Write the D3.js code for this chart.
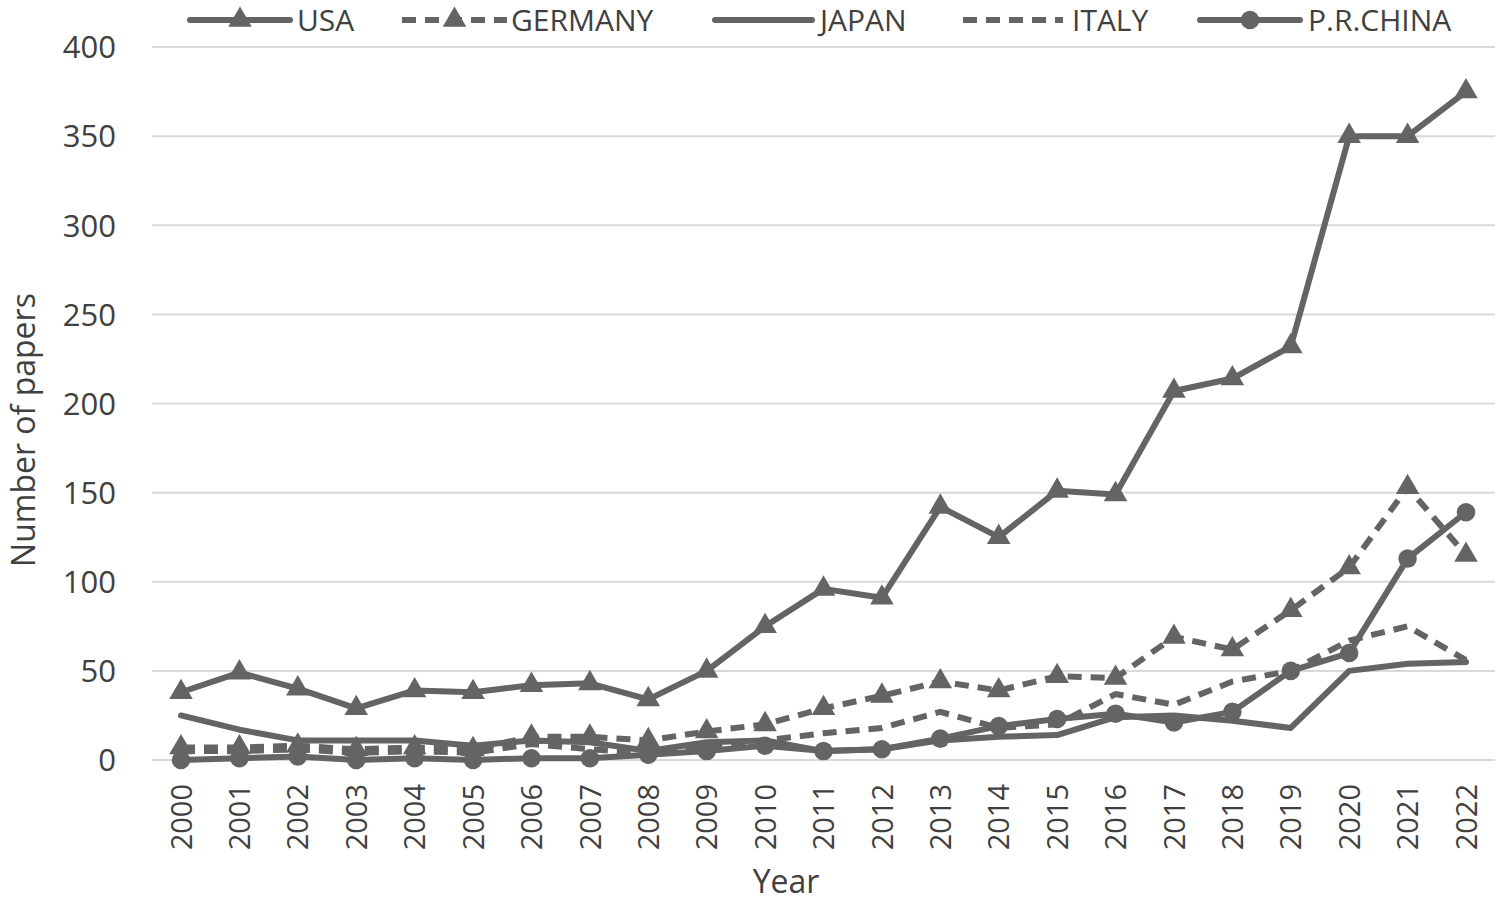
<!DOCTYPE html>
<html>
<head>
<meta charset="utf-8">
<script src="https://cdn.jsdelivr.net/npm/d3@7"></script>
<style>
  html, body { margin: 0; padding: 0; background: #fff; }
  svg text { font-family: "Open Sans", "Noto Sans", sans-serif; fill: #404040; }
</style>
</head>
<body>
<svg id="chart" width="1500" height="902"></svg>
<script>
const years = ["2000","2001","2002","2003","2004","2005","2006","2007","2008","2009","2010","2011","2012","2013","2014","2015","2016","2017","2018","2019","2020","2021","2022"];
const usa     = [38, 49, 40, 29, 39, 38, 42, 43, 34, 50, 75, 96, 91, 142, 125, 151, 149, 207, 214, 232, 350, 350, 375];
const germany = [7, 7, 8, 6, 7, 6, 13, 13, 11, 16, 20, 29, 36, 44, 39, 47, 46, 69, 62, 84, 108, 153, 115];
const japan   = [25, 17, 11, 11, 11, 8, 11, 10, 5, 10, 11, 5, 6, 11, 13, 14, 24, 25, 22, 18, 50, 54, 55];
const italy   = [5, 5, 6, 4, 5, 4, 9, 6, 4, 8, 11, 15, 18, 27, 18, 20, 37, 31, 44, 50, 67, 75, 56];
const china   = [0, 1, 2, 0, 1, 0, 1, 1, 3, 5, 8, 5, 6, 12, 19, 23, 26, 21, 27, 50, 60, 113, 139];
const yTicks  = [0, 50, 100, 150, 200, 250, 300, 350, 400];
const seriesNames = ["USA", "GERMANY", "JAPAN", "ITALY", "P.R.CHINA"];

const series = [
  {name: seriesNames[0], values: usa,     dash: null,   marker: "triangle"},
  {name: seriesNames[1], values: germany, dash: "14,9", marker: "triangle"},
  {name: seriesNames[2], values: japan,   dash: null,   marker: null},
  {name: seriesNames[3], values: italy,   dash: "14,9", marker: null},
  {name: seriesNames[4], values: china,   dash: null,   marker: "circle"}
];

const color = "#646464";
const svg = d3.select("#chart");

const x = d3.scalePoint().domain(years).range([181, 1466]);
const y = d3.scaleLinear().domain([0, 400]).range([760, 47]);
const plotLeft = 152, plotRight = 1495;

// gridlines
svg.append("g").selectAll("line").data(yTicks).join("line")
  .attr("x1", plotLeft).attr("x2", plotRight)
  .attr("y1", d => y(d)).attr("y2", d => y(d))
  .attr("stroke", "#d9d9d9").attr("stroke-width", 2);

// y axis labels
const yAxis = d3.axisLeft(y).tickValues(yTicks).tickSize(0).tickPadding(0);
const yg = svg.append("g").attr("transform", `translate(116,0)`).call(yAxis);
yg.select(".domain").remove();
yg.selectAll("text").style("font-size", "31px").style("fill", "#404040")
  .style("font-family", '"Open Sans", sans-serif').attr("dy", "0.35em");

// x axis labels (rotated)
const xAxis = d3.axisBottom(x).tickSize(0).tickPadding(0);
const xg = svg.append("g").attr("transform", `translate(0,760)`).call(xAxis);
xg.select(".domain").remove();
xg.selectAll("text")
  .style("font-size", "29px").style("fill", "#404040")
  .style("font-family", '"Open Sans", sans-serif')
  .attr("text-anchor", "end")
  .attr("transform", "translate(0,24) rotate(-90)")
  .attr("x", 0).attr("y", 0).attr("dy", "0.35em");

// axis titles
svg.append("text").attr("x", 786).attr("y", 893).attr("text-anchor", "middle")
  .style("font-size", "32px").text("Year");
svg.append("text").attr("transform", "translate(35,430) rotate(-90)")
  .attr("text-anchor", "middle").style("font-size", "32px").text("Number of papers");

// lines
const line = d3.line().x((d, i) => x(years[i])).y(d => y(d));
const markerPath = (type) => type === "triangle"
  ? d3.symbol().type(d3.symbolTriangle).size(240)()
  : d3.symbol().type(d3.symbolCircle).size(270)();

series.forEach(s => {
  const g = svg.append("g");
  g.append("path").datum(s.values)
    .attr("d", line).attr("fill", "none")
    .attr("stroke", color).attr("stroke-width", 6)
    .attr("stroke-linejoin", "round").attr("stroke-linecap", s.dash ? "butt" : "round")
    .attr("stroke-dasharray", s.dash);
  if (s.marker) {
    g.selectAll("path.m").data(s.values).join("path").attr("class", "m")
      .attr("d", markerPath(s.marker))
      .attr("transform", (d, i) => `translate(${x(years[i])},${y(d)})`)
      .attr("fill", color);
  }
});

// legend
const legendPos = [
  {x1: 190, x2: 290, tx: 297},
  {x1: 402, x2: 507, tx: 511},
  {x1: 715, x2: 812, tx: 820},
  {x1: 963, x2: 1063, tx: 1072},
  {x1: 1200, x2: 1300, tx: 1308}
];
const ly = 20;
series.forEach((s, i) => {
  const p = legendPos[i];
  const g = svg.append("g");
  g.append("line").attr("x1", p.x1).attr("x2", p.x2).attr("y1", ly).attr("y2", ly)
    .attr("stroke", color).attr("stroke-width", 6)
    .attr("stroke-linecap", s.dash ? "butt" : "round")
    .attr("stroke-dasharray", s.dash);
  if (s.marker) {
    g.append("path").attr("d", markerPath(s.marker))
      .attr("transform", `translate(${(p.x1 + p.x2) / 2},${ly})`).attr("fill", color);
  }
  g.append("text").attr("x", p.tx).attr("y", ly).attr("dy", "0.35em")
    .style("font-size", "30px").text(s.name);
});
</script>
</body>
</html>
